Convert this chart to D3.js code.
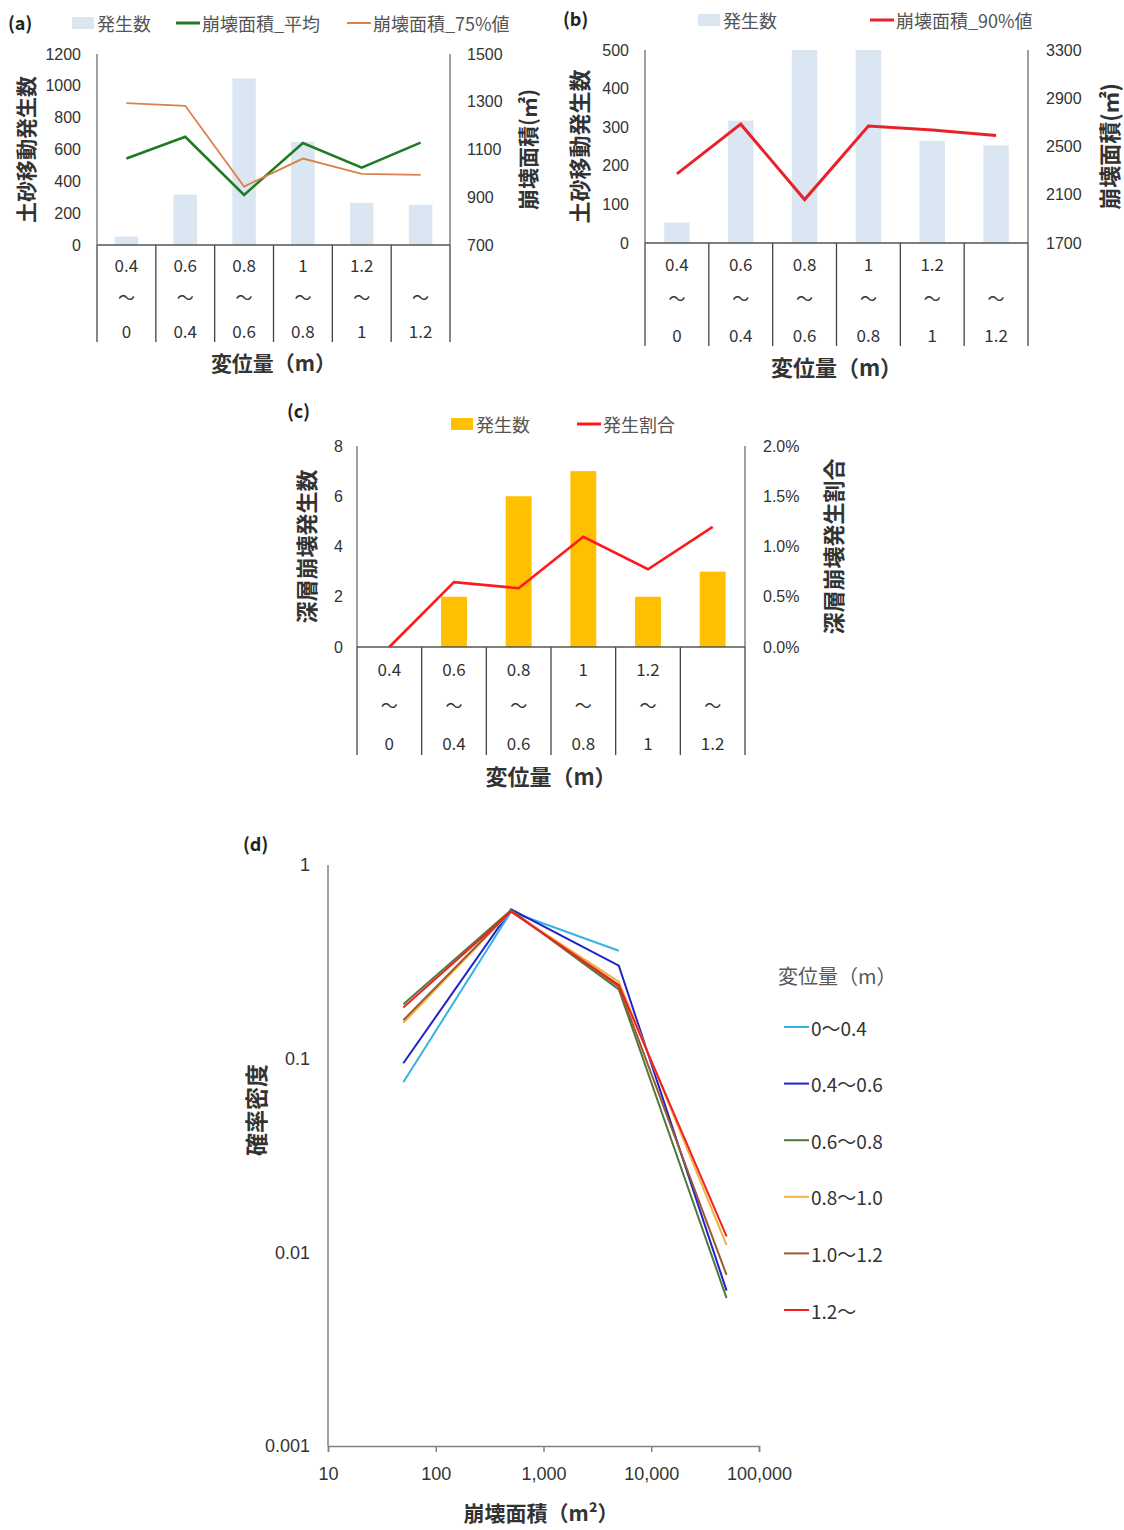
<!DOCTYPE html>
<html>
<head>
<meta charset="utf-8">
<script src="https://cdn.jsdelivr.net/npm/d3@7"></script>
<style>
  html, body { margin: 0; padding: 0; background: #fff; }
  svg { display: block; font-family: "Noto Sans CJK JP", "Noto Sans", sans-serif; }
</style>
</head>
<body>
<svg id="chart" width="1124" height="1530"></svg>
<script>
// ---- Data ----
// displacement classes, written as stacked "upper / 〜 / lower" labels
const classUpper = ["0.4", "0.6", "0.8", "1", "1.2", ""];
const classLower = ["0", "0.4", "0.6", "0.8", "1", "1.2"];

// (a)(b) sediment movement counts and landslide area statistics (m²)
const movementCount = [53, 317, 1047, 648, 265, 253];
const areaMean = [1062, 1153, 910, 1127, 1024, 1129];
const area75 = [1294, 1283, 945, 1062, 998, 994];
const area90 = [2273, 2685, 2060, 2669, 2636, 2591];

// (c) deep-seated landslides: counts and occurrence ratio
const deepCount = [0, 2, 6, 7, 2, 3];
const deepRatio = [0.0, 0.00645, 0.00585, 0.01096, 0.00774, 0.01196];

// tick values
const ticksA_left = [0, 200, 400, 600, 800, 1000, 1200];
const ticksA_right = [700, 900, 1100, 1300, 1500];
const ticksB_left = [0, 100, 200, 300, 400, 500];
const ticksB_right = [1700, 2100, 2500, 2900, 3300];
const ticksC_left = [0, 2, 4, 6, 8];
const ticksC_right = [0, 0.005, 0.01, 0.015, 0.02];

// (d) probability density by landslide area bin
const areaBins = [50, 500, 5000, 50000];
const densityNames = ["0〜0.4", "0.4〜0.6", "0.6〜0.8", "0.8〜1.0", "1.0〜1.2", "1.2〜"];
const density_0_04 = [0.0755, 0.574, 0.361, null];
const density_04_06 = [0.0947, 0.590, 0.302, 0.00634];
const density_06_08 = [0.191, 0.585, 0.228, 0.0058];
const density_08_10 = [0.153, 0.575, 0.250, 0.0109];
const density_10_12 = [0.158, 0.580, 0.235, 0.00764];
const density_12 = [0.184, 0.574, 0.240, 0.0121];
const densityColors = ["#35b3e3", "#2222c8", "#4f7a3c", "#f2b240", "#9a5a30", "#f02020"];
const ticksD_x = [10, 100, 1000, 10000, 100000];
const ticksD_y = [0.001, 0.01, 0.1, 1];

// ---- Drawing ----
const svg = d3.select("#chart");
const AXIS = "#808080";
const TXT = "#333";
const BAR_BLUE = "#dbe6f3";

function comboChart(c) {
  const g = svg.append("g");
  const x = d3.scaleBand().domain(d3.range(classUpper.length)).range([c.x0, c.x1]);
  const yL = d3.scaleLinear().domain(c.leftDomain).range([c.yBot, c.yTop]).clamp(true);
  const yR = d3.scaleLinear().domain(c.rightDomain).range([c.yBot, c.yTop]);
  const bw = x.bandwidth() * 0.4;
  const fs = c.fs;

  // bars
  g.selectAll("rect.bar").data(c.bars).join("rect")
    .attr("class", "bar")
    .attr("x", (d, i) => x(i) + (x.bandwidth() - bw) / 2)
    .attr("width", bw)
    .attr("y", d => yL(d))
    .attr("height", d => c.yBot - yL(d))
    .attr("fill", c.barColor);

  // left axis
  const axL = d3.axisLeft(yL).tickValues(c.leftTicks).tickSize(0).tickPadding(c.padL).tickFormat(c.leftFmt || d3.format("d"));
  g.append("g").attr("transform", `translate(${c.x0},0)`).call(axL)
    .call(s => s.select(".domain").remove())
    .selectAll("text").attr("fill", TXT).attr("font-size", fs);
  // right axis
  const axR = d3.axisRight(yR).tickValues(c.rightTicks).tickSize(0).tickPadding(c.padR).tickFormat(c.rightFmt || d3.format("d"));
  g.append("g").attr("transform", `translate(${c.x1},0)`).call(axR)
    .call(s => s.select(".domain").remove())
    .selectAll("text").attr("fill", TXT).attr("font-size", fs);

  // frame: vertical axes, baseline and category table dividers
  g.append("line").attr("x1", c.x0).attr("x2", c.x0).attr("y1", c.yTop).attr("y2", c.yBot)
    .attr("stroke", AXIS).attr("stroke-width", 1.5);
  g.append("line").attr("x1", c.x1).attr("x2", c.x1).attr("y1", c.yTop).attr("y2", c.yBot)
    .attr("stroke", AXIS).attr("stroke-width", 1.5);
  const bounds = d3.range(classUpper.length).map(i => x(i)).concat([c.x1]);
  g.selectAll("line.div").data(bounds).join("line").attr("class", "div")
    .attr("x1", d => d).attr("x2", d => d).attr("y1", c.yBot).attr("y2", c.tableBot)
    .attr("stroke", "#444").attr("stroke-width", 1.3);
  g.append("line").attr("x1", c.x0).attr("x2", c.x1).attr("y1", c.yBot).attr("y2", c.yBot)
    .attr("stroke", "#555").attr("stroke-width", 1.5);

  // category labels
  const th = c.tableBot - c.yBot;
  const cx = i => x(i) + x.bandwidth() / 2;
  g.selectAll("text.up").data(classUpper).join("text").attr("class", "up")
    .attr("x", (d, i) => cx(i)).attr("y", c.yBot + th * 0.2)
    .attr("text-anchor", "middle").attr("dominant-baseline", "central")
    .attr("font-size", fs + 1).attr("fill", TXT).text(d => d);
  g.selectAll("text.til").data(classUpper).join("text").attr("class", "til")
    .attr("x", (d, i) => cx(i)).attr("y", c.yBot + th * 0.53)
    .attr("text-anchor", "middle").attr("dominant-baseline", "central")
    .attr("font-size", fs + 1).attr("fill", TXT).text("〜");
  g.selectAll("text.lo").data(classLower).join("text").attr("class", "lo")
    .attr("x", (d, i) => cx(i)).attr("y", c.yBot + th * 0.885)
    .attr("text-anchor", "middle").attr("dominant-baseline", "central")
    .attr("font-size", fs + 1).attr("fill", TXT).text(d => d);

  // lines
  c.lines.forEach(L => {
    const line = d3.line().x((d, i) => cx(i)).y(d => yR(d));
    g.append("path").datum(L.values).attr("d", line)
      .attr("fill", "none").attr("stroke", L.color).attr("stroke-width", L.width)
      .attr("stroke-linejoin", "miter");
  });

  // titles
  g.append("text").attr("x", (c.x0 + c.x1) / 2).attr("y", c.tableBot + 20)
    .attr("text-anchor", "middle").attr("dominant-baseline", "central")
    .attr("font-size", c.tfs).attr("font-weight", "bold").attr("fill", TXT).text("変位量（m）");
  g.append("text").attr("transform", `translate(${c.titleLX},${(c.yTop + c.yBot) / 2}) rotate(-90)`)
    .attr("text-anchor", "middle").attr("dominant-baseline", "central")
    .attr("font-size", c.tfs).attr("font-weight", "bold").attr("fill", TXT).text(c.leftTitle);
  g.append("text").attr("transform", `translate(${c.titleRX},${(c.yTop + c.yBot) / 2}) rotate(-90)`)
    .attr("text-anchor", "middle").attr("dominant-baseline", "central")
    .attr("font-size", c.tfs).attr("font-weight", "bold").attr("fill", TXT).text(c.rightTitle);

  // panel label
  g.append("text").attr("x", c.tag[0]).attr("y", c.tag[1]).attr("dominant-baseline", "central")
    .attr("font-size", 18).attr("font-weight", "bold").attr("fill", "#222").text(c.tag[2]);

  // legend
  c.legend.forEach(L => {
    if (L.type === "bar") {
      g.append("rect").attr("x", L.x).attr("y", c.legY - 6).attr("width", 22).attr("height", 12).attr("fill", L.color);
    } else {
      g.append("line").attr("x1", L.x).attr("x2", L.x + 24).attr("y1", c.legY).attr("y2", c.legY)
        .attr("stroke", L.color).attr("stroke-width", L.width);
    }
    g.append("text").attr("x", L.x + (L.type === "bar" ? 25 : 26)).attr("y", c.legY)
      .attr("dominant-baseline", "central").attr("font-size", c.lfs).attr("fill", "#555").text(L.label);
  });
}

// (a)
comboChart({
  x0: 97, x1: 450, yTop: 54, yBot: 245, tableBot: 342, fs: 16, tfs: 21, lfs: 18,
  leftDomain: [0, 1200], leftTicks: ticksA_left, padL: 16,
  rightDomain: [700, 1500], rightTicks: ticksA_right, padR: 17,
  bars: movementCount, barColor: BAR_BLUE,
  lines: [
    { values: areaMean, color: "#1f7a22", width: 2.6 },
    { values: area75, color: "#d9824b", width: 1.8 }
  ],
  leftTitle: "土砂移動発生数", rightTitle: "崩壊面積(㎡)", titleLX: 25, titleRX: 527,
  tag: [8, 22, "(a)"], legY: 23,
  legend: [
    { type: "bar", x: 72, color: BAR_BLUE, label: "発生数" },
    { type: "line", x: 176, color: "#1f7a22", width: 3, label: "崩壊面積_平均" },
    { type: "line", x: 347, color: "#d9824b", width: 2, label: "崩壊面積_75%値" }
  ]
});

// (b)
comboChart({
  x0: 645, x1: 1028, yTop: 50, yBot: 243, tableBot: 346, fs: 16, tfs: 22, lfs: 18,
  leftDomain: [0, 500], leftTicks: ticksB_left, padL: 16,
  rightDomain: [1700, 3300], rightTicks: ticksB_right, padR: 18,
  bars: movementCount, barColor: BAR_BLUE,
  lines: [{ values: area90, color: "#e8222b", width: 3 }],
  leftTitle: "土砂移動発生数", rightTitle: "崩壊面積(㎡)", titleLX: 578, titleRX: 1108,
  tag: [563, 18, "(b)"], legY: 20,
  legend: [
    { type: "bar", x: 698, color: BAR_BLUE, label: "発生数" },
    { type: "line", x: 870, color: "#e8222b", width: 3, label: "崩壊面積_90%値" }
  ]
});

// (c)
comboChart({
  x0: 357, x1: 745, yTop: 446, yBot: 647, tableBot: 755, fs: 16, tfs: 22, lfs: 18,
  leftDomain: [0, 8], leftTicks: ticksC_left, padL: 14,
  rightDomain: [0, 0.02], rightTicks: ticksC_right, padR: 18, rightFmt: d3.format(".1%"),
  bars: deepCount, barColor: "#ffc000",
  lines: [{ values: deepRatio, color: "#ff1a1a", width: 2.6 }],
  leftTitle: "深層崩壊発生数", rightTitle: "深層崩壊発生割合", titleLX: 305, titleRX: 832,
  tag: [287, 410, "(c)"], legY: 424,
  legend: [
    { type: "bar", x: 451, color: "#ffc000", label: "発生数" },
    { type: "line", x: 577, color: "#ff1a1a", width: 3, label: "発生割合" }
  ]
});

// (d) log-log probability density
(function () {
  const g = svg.append("g");
  const x = d3.scaleLog().domain([10, 100000]).range([328, 759]);
  const y = d3.scaleLog().domain([0.001, 1]).range([1446, 865]);

  const ax = d3.axisBottom(x).tickValues(ticksD_x).tickSize(6).tickPadding(15).tickFormat(d3.format(","));
  g.append("g").attr("transform", "translate(0,1446)").call(ax)
    .call(s => s.select(".domain").attr("stroke", AXIS).attr("stroke-width", 1.5))
    .call(s => s.selectAll(".tick line").attr("stroke", AXIS).attr("stroke-width", 1.5))
    .selectAll("text").attr("fill", TXT).attr("font-size", 18);

  const ay = d3.axisLeft(y).tickValues(ticksD_y).tickSize(0).tickPadding(18).tickFormat(d => String(d));
  g.append("g").attr("transform", "translate(328,0)").call(ay)
    .call(s => s.select(".domain").remove())
    .selectAll("text").attr("fill", TXT).attr("font-size", 18);
  g.append("line").attr("x1", 328).attr("x2", 328).attr("y1", 865).attr("y2", 1446)
    .attr("stroke", AXIS).attr("stroke-width", 1.5);

  const series = [density_0_04, density_04_06, density_06_08, density_08_10, density_10_12, density_12];
  const line = d3.line().defined(d => d[1] != null).x(d => x(d[0])).y(d => y(d[1]));
  series.forEach((vals, k) => {
    g.append("path").datum(areaBins.map((a, i) => [a, vals[i]]))
      .attr("d", line).attr("fill", "none")
      .attr("stroke", densityColors[k]).attr("stroke-width", 2);
  });

  // titles
  g.append("text").attr("x", 541).attr("y", 1512).attr("text-anchor", "middle").attr("dominant-baseline", "central")
    .attr("font-size", 21).attr("font-weight", "bold").attr("fill", TXT).text("崩壊面積（m²）");
  g.append("text").attr("transform", "translate(255,1110) rotate(-90)")
    .attr("text-anchor", "middle").attr("dominant-baseline", "central")
    .attr("font-size", 23).attr("font-weight", "bold").attr("fill", TXT).text("確率密度");
  g.append("text").attr("x", 243).attr("y", 843).attr("dominant-baseline", "central")
    .attr("font-size", 18).attr("font-weight", "bold").attr("fill", "#222").text("(d)");

  // legend
  g.append("text").attr("x", 778).attr("y", 975).attr("dominant-baseline", "central")
    .attr("font-size", 20).attr("fill", "#595959").text("変位量（m）");
  const ly = d3.scalePoint().domain(densityNames).range([1027, 1310]);
  densityNames.forEach((n, k) => {
    g.append("line").attr("x1", 784).attr("x2", 809).attr("y1", ly(n)).attr("y2", ly(n))
      .attr("stroke", densityColors[k]).attr("stroke-width", 2);
    g.append("text").attr("x", 811).attr("y", ly(n)).attr("dominant-baseline", "central")
      .attr("font-size", 19).attr("fill", TXT).text(n);
  });
})();
</script>
</body>
</html>
